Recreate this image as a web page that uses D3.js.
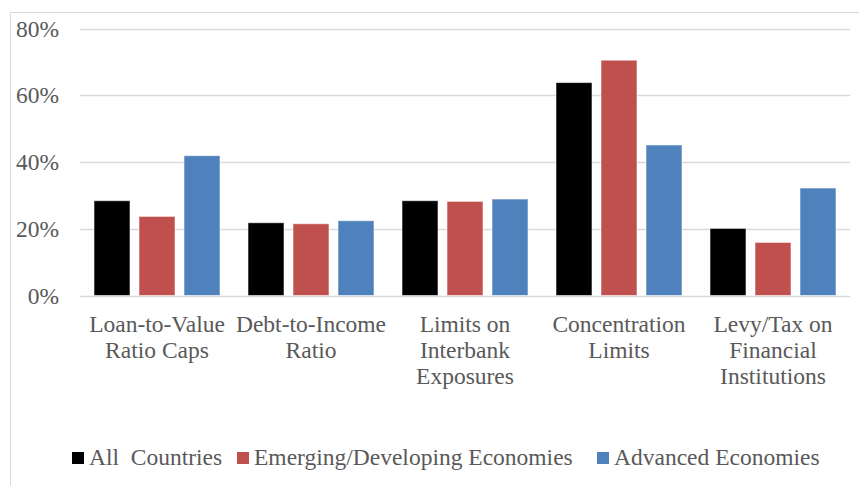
<!DOCTYPE html>
<html>
<head>
<meta charset="utf-8">
<script src="https://cdn.jsdelivr.net/npm/d3@7"></script>
<style>
  html, body { margin: 0; padding: 0; background: #fff; }
  svg { display: block; }
  text { font-family: "Liberation Serif", "Times New Roman", serif; fill: #595959; }
</style>
</head>
<body>
<svg id="chart" width="859" height="486"></svg>
<script>
const categories = [
  "Loan-to-Value\nRatio Caps",
  "Debt-to-Income\nRatio",
  "Limits on\nInterbank\nExposures",
  "Concentration\nLimits",
  "Levy/Tax on\nFinancial\nInstitutions"
];
const seriesNames = ["All  Countries", "Emerging/Developing Economies", "Advanced Economies"];
const allCountries = [28.4, 21.8, 28.4, 63.8, 20.1];
const emergingDeveloping = [23.7, 21.5, 28.2, 70.5, 15.9];
const advancedEconomies = [41.9, 22.4, 28.9, 45.1, 32.2];
const yTicks = [0, 20, 40, 60, 80];
const colors = ["#000000", "#C0504D", "#4F81BD"];

const seriesValues = [allCountries, emergingDeveloping, advancedEconomies];

const svg = d3.select("#chart");

// outer frame (top and left edges visible)
svg.append("line").attr("x1", 10.5).attr("x2", 859).attr("y1", 12.5).attr("y2", 12.5)
  .attr("stroke", "#d9d9d9").attr("stroke-width", 1);
svg.append("line").attr("x1", 10.5).attr("x2", 10.5).attr("y1", 12.5).attr("y2", 486)
  .attr("stroke", "#d9d9d9").attr("stroke-width", 1);

const x0 = d3.scaleBand().domain(categories).range([80, 850]).paddingInner(0).paddingOuter(0);
const x1 = d3.scaleBand().domain(seriesNames).range([14, 140]).paddingInner(0.2).paddingOuter(0);
const y = d3.scaleLinear().domain([0, 80]).range([295.5, 28.5]);

// y axis labels
const yAxis = d3.axisLeft(y).tickValues(yTicks).tickFormat(d => d + "%").tickSize(0).tickPadding(21);
const gy = svg.append("g").attr("transform", "translate(80,0)").call(yAxis);
gy.select(".domain").remove();
gy.selectAll("text").style("font-size", "23.5px").attr("fill", "#595959")
  .attr("font-family", "Liberation Serif");

// gridlines
svg.append("g").selectAll("line").data(yTicks).join("line")
  .attr("x1", 80).attr("x2", 850)
  .attr("y1", d => Math.round(y(d)) + 0.5).attr("y2", d => Math.round(y(d)) + 0.5)
  .attr("stroke", "#d9d9d9").attr("stroke-width", 1.6);

// bars
const groups = svg.append("g").selectAll("g").data(categories).join("g")
  .attr("transform", d => `translate(${x0(d)},0)`);

groups.selectAll("rect")
  .data((d, i) => seriesNames.map((s, j) => ({ s, j, v: seriesValues[j][i] })))
  .join("rect")
  .attr("x", d => x1(d.s))
  .attr("width", x1.bandwidth())
  .attr("y", d => y(d.v))
  .attr("height", d => y(0) - y(d.v))
  .attr("fill", d => colors[d.j])
  .attr("stroke", "rgba(255,255,255,0.55)")
  .attr("stroke-width", 1);

// category labels
const labels = svg.append("g").selectAll("text").data(categories).join("text")
  .attr("text-anchor", "middle")
  .attr("x", d => x0(d) + x0.bandwidth() / 2)
  .attr("y", 332)
  .style("font-size", "23.5px");
labels.each(function(d) {
  const t = d3.select(this);
  d.split("\n").forEach((line, k) => {
    t.append("tspan").attr("x", x0(d) + x0.bandwidth() / 2).attr("dy", k === 0 ? 0 : 26).text(line);
  });
});

// legend
const legendX = [72, 237, 597];
const legend = svg.append("g").selectAll("g").data(seriesNames).join("g")
  .attr("transform", (d, i) => `translate(${legendX[i]},452)`);
legend.append("rect").attr("width", 12).attr("height", 12).attr("fill", (d, i) => colors[i]);
legend.append("text").attr("x", 17).attr("y", 12.5)
  .style("font-size", "23.5px").style("white-space", "pre").text(d => d);
</script>
</body>
</html>
